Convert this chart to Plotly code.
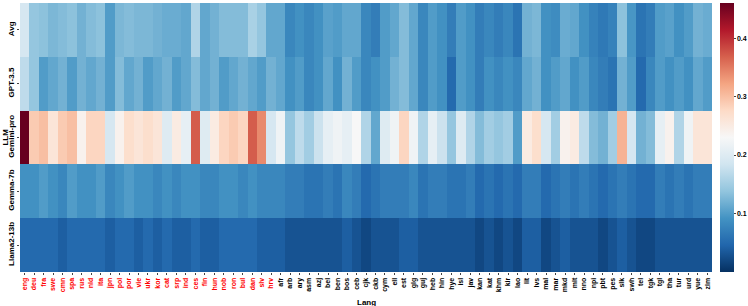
import plotly.graph_objects as go

langs_high = ["eng", "deu", "fra", "swe", "cmn", "spa", "rus", "nld", "ita", "jpn",
              "pol", "por", "vie", "ukr", "kor", "cat", "srp", "ind", "ces", "fin",
              "hun", "nob", "ron", "bul", "dan", "slv", "hrv"]
langs_low = ["afr", "arb", "ary", "asm", "azj", "bel", "ben", "bos", "ceb", "cjk",
             "ckb", "cym", "ell", "est", "glg", "guj", "heb", "hin", "hye", "isl",
             "jav", "kan", "kat", "khm", "kir", "lao", "lit", "lvs", "mal", "mar",
             "mkd", "mlt", "nno", "npi", "pbt", "pes", "slk", "swh", "tel", "tgk",
             "tgl", "tha", "tur", "urd", "yue", "zlm"]
langs = langs_high + langs_low

models = ["Avg", "GPT-3.5", "Gemini-pro", "Gemma-7b", "Llama2-13b"]

avg = [0.19, 0.14, 0.135, 0.125, 0.13, 0.135, 0.12, 0.13, 0.135, 0.10,
       0.125, 0.13, 0.125, 0.125, 0.12, 0.115, 0.115, 0.11, 0.16, 0.11,
       0.12, 0.13, 0.13, 0.13, 0.155, 0.14, 0.11,
       0.11, 0.08, 0.09, 0.08, 0.09, 0.105, 0.10, 0.11, 0.11, 0.08,
       0.07, 0.10, 0.11, 0.13, 0.11, 0.08, 0.10, 0.09, 0.07, 0.10,
       0.09, 0.07, 0.08, 0.07, 0.08, 0.06, 0.12, 0.125, 0.09, 0.085,
       0.115, 0.11, 0.09, 0.075, 0.065, 0.075, 0.135, 0.095, 0.06, 0.07,
       0.10, 0.105, 0.09, 0.10, 0.12, 0.115]

gpt35 = [0.17, 0.14, 0.10, 0.11, 0.12, 0.10, 0.12, 0.11, 0.12, 0.10,
         0.13, 0.11, 0.12, 0.10, 0.11, 0.12, 0.10, 0.11, 0.13, 0.11,
         0.12, 0.10, 0.11, 0.12, 0.11, 0.10, 0.12,
         0.11, 0.09, 0.10, 0.08, 0.09, 0.11, 0.09, 0.12, 0.10, 0.08,
         0.09, 0.10, 0.12, 0.13, 0.11, 0.08, 0.10, 0.09, 0.05, 0.10,
         0.09, 0.07, 0.09, 0.08, 0.09, 0.08, 0.11, 0.12, 0.09, 0.10,
         0.11, 0.09, 0.10, 0.08, 0.07, 0.06, 0.12, 0.10, 0.05, 0.08,
         0.10, 0.09, 0.10, 0.09, 0.11, 0.10]

gemini = [0.46, 0.29, 0.30, 0.26, 0.29, 0.30, 0.24, 0.28, 0.28, 0.19,
          0.24, 0.27, 0.26, 0.27, 0.26, 0.20, 0.25, 0.21, 0.37, 0.20,
          0.25, 0.28, 0.29, 0.28, 0.37, 0.34, 0.19,
          0.22, 0.14, 0.17, 0.15, 0.18, 0.21, 0.22, 0.21, 0.23, 0.16,
          0.11, 0.20, 0.22, 0.28, 0.22, 0.16, 0.21, 0.18, 0.14, 0.20,
          0.16, 0.13, 0.15, 0.14, 0.15, 0.10, 0.25, 0.27, 0.19, 0.15,
          0.24, 0.25, 0.17, 0.13, 0.12, 0.15, 0.31, 0.19, 0.12, 0.13,
          0.21, 0.24, 0.16, 0.22, 0.26, 0.26]

gemma = [0.09, 0.09, 0.10, 0.09, 0.08, 0.10, 0.09, 0.09, 0.10, 0.08,
         0.09, 0.10, 0.09, 0.09, 0.08, 0.09, 0.08, 0.09, 0.09, 0.08,
         0.08, 0.09, 0.09, 0.08, 0.09, 0.08, 0.08,
         0.08, 0.07, 0.07, 0.06, 0.06, 0.07, 0.06, 0.08, 0.07, 0.05,
         0.06, 0.07, 0.07, 0.07, 0.08, 0.06, 0.07, 0.07, 0.06, 0.06,
         0.07, 0.05, 0.06, 0.05, 0.06, 0.05, 0.07, 0.07, 0.05, 0.06,
         0.07, 0.06, 0.07, 0.06, 0.05, 0.06, 0.07, 0.06, 0.05, 0.05,
         0.07, 0.06, 0.07, 0.06, 0.07, 0.07]

llama = [0.05, 0.05, 0.05, 0.05, 0.04, 0.05, 0.05, 0.05, 0.05, 0.04,
         0.05, 0.05, 0.04, 0.05, 0.04, 0.05, 0.04, 0.04, 0.05, 0.04,
         0.04, 0.05, 0.05, 0.05, 0.05, 0.04, 0.04,
         0.04, 0.03, 0.03, 0.03, 0.03, 0.03, 0.03, 0.04, 0.03, 0.02,
         0.03, 0.03, 0.03, 0.04, 0.04, 0.03, 0.03, 0.03, 0.03, 0.03,
         0.03, 0.02, 0.03, 0.02, 0.03, 0.02, 0.04, 0.04, 0.02, 0.03,
         0.04, 0.03, 0.03, 0.03, 0.02, 0.03, 0.04, 0.03, 0.02, 0.02,
         0.03, 0.03, 0.03, 0.03, 0.03, 0.03]

z = [avg, gpt35, gemini, gemma, llama]

rdbu_r = [
    [0.0, "rgb(5,48,97)"], [0.1, "rgb(33,102,172)"], [0.2, "rgb(67,147,195)"],
    [0.3, "rgb(146,197,222)"], [0.4, "rgb(209,229,240)"], [0.5, "rgb(247,247,247)"],
    [0.6, "rgb(253,219,199)"], [0.7, "rgb(244,165,130)"], [0.8, "rgb(214,96,77)"],
    [0.9, "rgb(178,24,43)"], [1.0, "rgb(103,0,31)"],
]

ticktext = ([f"<span style='color:red'>{l}</span>" for l in langs_high] +
            [f"<span style='color:black'>{l}</span>" for l in langs_low])

FONT = "Liberation Sans"

fig = go.Figure(go.Heatmap(
    z=z, x=langs, y=models,
    colorscale=rdbu_r, zmin=0.0, zmax=0.46,
    colorbar=dict(
        thickness=14, len=1.0, lenmode="fraction", y=0.5, yanchor="middle",
        x=1.011, xanchor="left", xpad=0, ypad=0,
        tickvals=[0.1, 0.2, 0.3, 0.4], ticks="outside", ticklen=2,
        tickfont=dict(size=7, family=FONT, weight="bold"),
        outlinewidth=0,
    ),
))

fig.update_layout(
    width=748, height=306,
    margin=dict(l=20, r=36, t=3, b=34, autoexpand=False),
    paper_bgcolor="white", plot_bgcolor="white",
    font=dict(family=FONT, size=8, color="black", weight="bold"),
    annotations=[
        dict(text="Lang", x=0.5, y=-0.088, xref="paper", yref="paper",
             xanchor="center", yanchor="top", showarrow=False,
             font=dict(size=8, family=FONT, weight="bold")),
        dict(text="LLM", x=-0.0215, y=0.5, xref="paper", yref="paper",
             xanchor="center", yanchor="middle", showarrow=False, textangle=-90,
             font=dict(size=8, family=FONT, weight="bold")),
    ],
)
fig.update_xaxes(
    tickmode="array", tickvals=langs, ticktext=ticktext, tickangle=-90,
    tickfont=dict(size=7, family=FONT, weight="bold"),
    ticks="outside", ticklen=2, showgrid=False, automargin=False,
)
fig.update_yaxes(
    autorange="reversed", tickangle=-90,
    tickfont=dict(size=8, family=FONT, weight="bold"),
    ticks="outside", ticklen=2, showgrid=False, automargin=False,
)

fig.write_html("out.html", config={"displayModeBar": False},
               post_script="document.body.style.margin='0';document.body.style.overflow='hidden';")
